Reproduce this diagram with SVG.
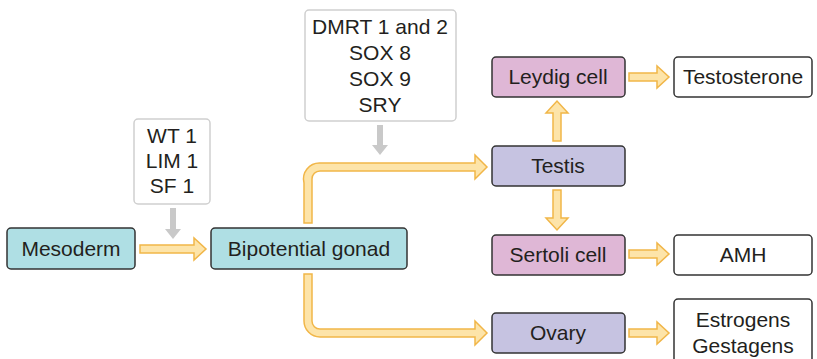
<svg xmlns="http://www.w3.org/2000/svg" width="817" height="359" viewBox="0 0 817 359">
<style>
text{font-family:"Liberation Sans",Arial,sans-serif;font-size:21px;fill:#231f20;text-anchor:middle}
.teal{fill:#afdfe4;stroke:#333;stroke-width:1.5}
.purple{fill:#c6c3e1;stroke:#333;stroke-width:1.5}
.pink{fill:#dfb7d6;stroke:#333;stroke-width:1.5}
.white{fill:#fff;stroke:#333;stroke-width:1.5}
.info{fill:#fff;stroke:#cfcfcf;stroke-width:1.5}
.ya{fill:#fde4a9;stroke:#f1b648;stroke-width:1.5;stroke-linejoin:miter}
.ga{fill:#c9c9c9}
</style>
<rect width="817" height="359" fill="#fff"/>
<g id="connectors">
<polygon class="ya" points="140,245 194,245 194,238 206,249 194,260 194,253 140,253"/>
<path class="ya" d="M304,223 L304,183 A16,16 0 0 1 320,163 L475,163 L475,155 L487,167 L475,179 L475,171 L320,171 A8,8 0 0 0 312,179 L312,223 Z"/>
<path class="ya" d="M304,274 L304,321 A16,16 0 0 0 320,337 L475,337 L475,345 L487,333 L475,321 L475,329 L320,329 A8,8 0 0 1 312,321 L312,274 Z"/>
<polygon class="ya" points="553,141 553,113 546,113 557,101 568,113 561,113 561,141"/>
<polygon class="ya" points="553,190 553,218 546,218 557,230 568,218 561,218 561,190"/>
<polygon class="ya" points="629,73 657,73 657,66 669,77 657,88 657,81 629,81"/>
<polygon class="ya" points="629,250 657,250 657,243 669,254 657,265 657,258 629,258"/>
<polygon class="ya" points="629,329 657,329 657,322 669,333 657,344 657,337 629,337"/>
<polygon class="ga" points="170,208 176,208 176,229 181,229 173,239 165,229 170,229"/>
<polygon class="ga" points="377,125 383,125 383,145 388,145 380,155 372,145 377,145"/>
</g>
<g id="wt">
<rect class="info" x="134" y="119" width="76" height="85" rx="4"/>
<text x="172" y="143">WT 1</text>
<text x="172" y="168">LIM 1</text>
<text x="172" y="193">SF 1</text>
</g>
<g id="dmrt">
<rect class="info" x="305" y="10" width="151" height="111" rx="4"/>
<text x="380" y="34">DMRT 1 and 2</text>
<text x="380" y="60">SOX 8</text>
<text x="380" y="86">SOX 9</text>
<text x="380" y="112">SRY</text>
</g>
<g id="mesoderm">
<rect class="teal" x="7" y="228" width="128" height="41" rx="4"/>
<text x="71" y="256">Mesoderm</text>
</g>
<g id="gonad">
<rect class="teal" x="211" y="228" width="196" height="41" rx="4"/>
<text x="309" y="256">Bipotential gonad</text>
</g>
<g id="leydig">
<rect class="pink" x="492" y="57" width="133" height="40" rx="4"/>
<text x="558" y="84">Leydig cell</text>
</g>
<g id="testis">
<rect class="purple" x="492" y="146" width="133" height="40" rx="4"/>
<text x="558" y="173">Testis</text>
</g>
<g id="sertoli">
<rect class="pink" x="492" y="235" width="133" height="40" rx="4"/>
<text x="558" y="262">Sertoli cell</text>
</g>
<g id="ovary">
<rect class="purple" x="492" y="313" width="133" height="40" rx="4"/>
<text x="558" y="340">Ovary</text>
</g>
<g id="testosterone">
<rect class="white" x="674" y="57" width="138" height="40" rx="4"/>
<text x="743" y="84">Testosterone</text>
</g>
<g id="amh">
<rect class="white" x="674" y="235" width="138" height="40" rx="4"/>
<text x="743" y="262">AMH</text>
</g>
<g id="hormones">
<rect class="white" x="674" y="299" width="138" height="70" rx="4"/>
<text x="743" y="327">Estrogens</text>
<text x="743" y="353">Gestagens</text>
</g>
</svg>
